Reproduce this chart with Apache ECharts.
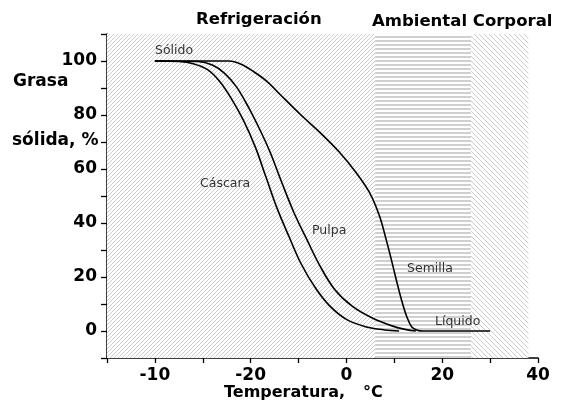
<!DOCTYPE html>
<html lang="es">
<head>
  <meta charset="UTF-8">
  <title>Grasa sólida</title>
  <script src="https://cdn.jsdelivr.net/npm/echarts@6/dist/echarts.min.js"></script>
  <style>
    * { margin: 0; padding: 0; }
    body { background: #fff; }
    #chart { width: 568px; height: 409px; }
  </style>
</head>
<body>
  <div id="chart"></div>
<script>
  // curvas: [temperatura °C, grasa sólida %]
  var cascara = [[-40, 100], [-35, 99.8], [-32, 99], [-29, 96.8], [-26.5, 92.5], [-24, 86],
    [-21.5, 78], [-19, 68], [-16.8, 57], [-14.5, 45.5], [-12, 35], [-9.5, 25],
    [-6.5, 16], [-3.5, 9.3], [0, 4.3], [4, 1.6], [8, 0.4], [11, 0]];
  var pulpa = [[-40, 100], [-31, 99.8], [-28, 98.5], [-25.5, 95.5], [-23, 90.5], [-20.5, 83],
    [-18.2, 75], [-16, 66.5], [-13.5, 55], [-11, 44], [-8.3, 34], [-5.5, 24],
    [-2.5, 15.5], [1.2, 9.2], [5.5, 4.7], [9.5, 1.9], [12.5, 0.5], [14.5, 0]];
  var semilla = [[-40, 100], [-24.5, 100], [-22, 98.8], [-19.5, 96.2], [-16.5, 92.3], [-13.8, 87.5],
    [-9.5, 80], [-5.5, 73.5], [-1.5, 66.3], [2, 58.7], [4.8, 51.3], [6.9, 42.6], [8.2, 34.5],
    [9.3, 27], [10.4, 19], [11.5, 11.5], [12.6, 5.3], [13.6, 1.6], [14.8, 0.3], [16, 0], [30, 0]];

  // zonas sombreadas (°C)
  var zonaRefrig = [-50, 6];
  var zonaAmbiental = [6, 26];
  var zonaCorporal = [26, 38];

  // etiquetas del eje x tal como aparecen
  var xTickLabels = { '-40': '-10', '-20': '-20', '0': '0', '20': '20', '40': '40' };
  var yTickLabels = [0, 20, 40, 60, 80, 100];

  var FONT = '"DejaVu Sans", sans-serif';

  // patrones de rayado
  function pattern(size, draw) {
    var c = document.createElement('canvas');
    c.width = size; c.height = size;
    var g = c.getContext('2d');
    g.fillStyle = '#fff';
    g.fillRect(0, 0, size, size);
    draw(g, size);
    return c;
  }
  var diagUp = pattern(4, function (g, s) {
    g.fillStyle = '#cccccc';
    for (var i = 0; i < s; i++) g.fillRect(i, s - 1 - i, 1, 1);
  });
  var diagDown = pattern(5, function (g, s) {
    g.fillStyle = '#cccccc';
    for (var i = 0; i < s; i++) g.fillRect(i, i, 1, 1);
  });
  var horiz = pattern(4, function (g, s) {
    g.fillStyle = '#d0d0d0';
    g.fillRect(0, 0, s, 2);
  });

  var chart = echarts.init(document.getElementById('chart'));

  var lineStyle = { color: '#000', width: 1.6 };

  function curva(name, data, extra) {
    return Object.assign({
      name: name,
      type: 'line',
      data: data,
      smooth: 0.35,
      showSymbol: false,
      lineStyle: lineStyle,
      z: 5
    }, extra || {});
  }

  var series = [
    curva('Cáscara', cascara),
    curva('Pulpa', pulpa),
    curva('Semilla', semilla, {
      markArea: {
        silent: true,
        label: { show: false },
        data: [
          [{ xAxis: zonaRefrig[0], yAxis: -10, itemStyle: { color: { image: diagUp, repeat: 'repeat' } } }, { xAxis: zonaRefrig[1], yAxis: 110 }],
          [{ xAxis: zonaAmbiental[0], yAxis: -10, itemStyle: { color: { image: horiz, repeat: 'repeat' } } }, { xAxis: zonaAmbiental[1], yAxis: 110 }],
          [{ xAxis: zonaCorporal[0], yAxis: -10, itemStyle: { color: { image: diagDown, repeat: 'repeat' } } }, { xAxis: zonaCorporal[1], yAxis: 110 }]
        ]
      }
    })
  ];

  var etiqueta = { fontFamily: FONT, fontSize: 12.5, fill: '#333', fontWeight: 'normal' };
  var negrita = { fontFamily: FONT, fontSize: 17, fontWeight: 'bold', fill: '#000' };
  function texto(x, y, t, style) {
    return { type: 'text', left: x, top: y, z: 100, style: Object.assign({ text: t }, style) };
  }

  var option = {
    animation: false,
    grid: { left: 107, right: 30, top: 34, bottom: 51 },
    xAxis: {
      type: 'value',
      min: -50,
      max: 40,
      interval: 10,
      axisLine: { onZero: false, lineStyle: { color: '#000', width: 1.5 } },
      axisTick: { length: 5, lineStyle: { color: '#000', width: 1.3 } },
      splitLine: { show: false },
      axisLabel: {
        margin: 9,
        color: '#000',
        fontFamily: FONT,
        fontSize: 17,
        fontWeight: 'bold',
        formatter: function (v) { return xTickLabels[String(v)] || ''; }
      }
    },
    yAxis: {
      type: 'value',
      min: -10,
      max: 110,
      interval: 10,
      axisLine: { show: true, onZero: false, lineStyle: { color: '#000', width: 1.5 } },
      axisTick: { show: true, length: 6, lineStyle: { color: '#000', width: 1.3 } },
      splitLine: { show: false },
      axisLabel: {
        margin: 10,
        color: '#000',
        fontFamily: FONT,
        fontSize: 17,
        fontWeight: 'bold',
        formatter: function (v) { return yTickLabels.indexOf(v) >= 0 ? String(v) : ''; }
      }
    },
    series: series,
    graphic: [
      texto(196, 11, 'Refrigeración', Object.assign({}, negrita, { fontSize: 16.5 })),
      texto(372, 13, 'Ambiental Corporal', Object.assign({}, negrita, { fontSize: 16.5 })),
      texto(13, 73, 'Grasa', negrita),
      texto(12, 132, 'sólida, %', negrita),
      texto(224, 385, 'Temperatura,', Object.assign({}, negrita, { fontSize: 16 })),
      texto(363, 385, '°C', Object.assign({}, negrita, { fontSize: 16 })),
      texto(155, 44, 'Sólido', etiqueta),
      texto(200, 177, 'Cáscara', etiqueta),
      texto(312, 224, 'Pulpa', etiqueta),
      texto(407, 262, 'Semilla', etiqueta),
      texto(435, 315, 'Líquido', etiqueta)
    ]
  };

  chart.setOption(option);
</script>
</body>
</html>
